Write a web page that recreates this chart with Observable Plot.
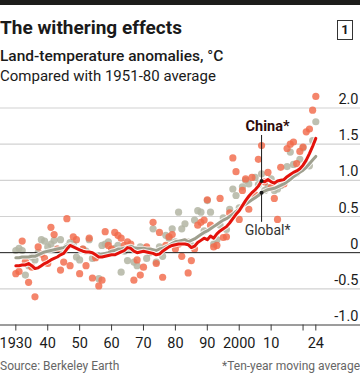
<!DOCTYPE html>
<html><head><meta charset="utf-8">
<script src="https://cdn.jsdelivr.net/npm/d3@7"></script>
<script src="https://cdn.jsdelivr.net/npm/@observablehq/plot@0.6"></script>
<style>
body{margin:0;background:#fff;}
#wrap{position:relative;width:360px;height:381px;overflow:hidden;font-family:Roboto,"Noto Sans",sans-serif;color:#1a1a1a;}
#wrap div{position:absolute;white-space:nowrap;line-height:1;}
.bar{left:0;top:0;width:360px;height:5px;background:#1d1d1b;}
.title{left:0;top:17.5px;font-size:19px;font-weight:700;}
.sub{left:0;top:49.3px;font-size:15.5px;font-weight:500;}
.sub2{left:0;top:69px;font-size:15px;font-weight:400;}
.box{left:337px;top:19.5px;width:14px;height:18px;border:1.5px solid #333;font-size:13px;font-weight:700;text-align:center;line-height:18px !important;}
.src{left:0;top:360px;font-size:12px;color:#666;}
.note{right:0;top:360px;font-size:12px;color:#666;}
#chart{left:0;top:0;}
</style></head>
<body>
<div id="wrap">
  <div id="chart"></div>
  <div class="bar"></div>
  <div class="title">The withering effects</div>
  <div class="box">1</div>
  <div class="sub">Land-temperature anomalies, °C</div>
  <div class="sub2">Compared with 1951-80 average</div>
  <div class="src">Source: Berkeley Earth</div>
  <div class="note">*Ten-year moving average</div>
</div>
<script>
const firstYear = 1930;
const chinaValues = [
 -0.29,-0.26,0.16,-0.12,-0.41,-0.20,-0.61,0.08,-0.02,-0.08,
 -0.15,0.35,0.25,0.05,-0.24,-0.13,0.47,-0.18,0.22,0.18,
 -0.29,0.05,-0.18,0.20,-0.35,-0.07,-0.46,-0.38,0.29,0.10,
 0.05,0.28,0.24,0.20,0.10,0.15,0.12,-0.38,-0.10,-0.31,
 -0.20,0.08,0.03,0.42,-0.15,0.28,-0.34,0.10,0.22,0.25,
 0.05,0.12,-0.05,0.15,-0.28,-0.11,0.05,0.38,0.42,0.45,
 0.73,0.38,0.08,0.10,0.75,0.21,0.22,0.55,1.31,1.12,
 0.46,0.86,1.02,0.60,1.04,0.80,1.29,1.48,0.98,1.11,
 0.90,0.75,0.46,1.18,0.95,1.44,1.50,1.53,1.23,1.40,
 1.46,1.67,1.71,1.97,2.16];
const globalValues = [
 0.03,0.06,0.03,-0.31,-0.18,-0.06,-0.10,0.00,0.18,0.16,
 0.08,0.12,0.17,0.05,0.18,0.02,0.08,0.14,0.12,-0.06,
 -0.10,0.05,0.02,0.18,-0.08,-0.05,-0.36,0.10,0.12,0.15,
 0.02,0.06,0.10,-0.27,0.02,-0.11,0.05,-0.13,-0.18,0.08,
 0.06,-0.08,0.00,0.33,-0.13,0.08,-0.05,0.24,0.20,0.33,
 0.15,0.56,0.33,0.40,0.15,0.10,0.45,0.58,0.56,0.30,
 0.72,0.56,0.12,0.18,0.38,0.48,0.32,0.60,0.88,0.79,
 0.62,0.91,1.00,0.95,0.80,1.04,0.94,1.09,0.86,0.90,
 1.02,0.86,0.88,0.93,0.98,1.19,1.39,1.22,1.10,1.29,
 1.45,1.22,1.20,1.55,1.81];
const chinaAvg = [
 -0.18,-0.18,-0.17,-0.17,-0.15,-0.18,-0.22,-0.21,-0.18,-0.15,
 -0.13,-0.10,-0.08,-0.06,-0.03,-0.01,0.05,0.10,0.08,0.06,
 0.04,0.02,0.01,0.01,0.00,-0.03,-0.06,-0.06,-0.05,-0.04,
 -0.03,-0.03,-0.01,0.01,0.03,0.07,0.06,0.02,0.00,0.01,
 0.02,0.01,0.00,-0.01,-0.03,-0.02,0.02,0.05,0.08,0.10,
 0.11,0.12,0.12,0.12,0.11,0.07,0.09,0.14,0.17,0.20,
 0.18,0.23,0.20,0.26,0.30,0.33,0.36,0.41,0.47,0.53,
 0.58,0.65,0.72,0.78,0.83,0.87,0.92,0.99,0.98,1.01,
 0.98,0.96,0.99,1.00,1.01,1.05,1.08,1.11,1.13,1.16,
 1.21,1.28,1.37,1.47,1.58];
const globalAvg = [
 -0.07,-0.07,-0.06,-0.06,-0.06,-0.05,-0.05,-0.03,-0.01,0.01,
 0.02,0.03,0.04,0.05,0.06,0.07,0.09,0.11,0.10,0.06,
 0.03,0.02,0.01,0.00,-0.01,-0.02,-0.03,-0.02,-0.01,0.00,
 0.02,0.03,0.05,0.05,0.06,0.08,0.09,0.07,0.06,0.06,
 0.06,0.05,0.05,0.04,0.03,0.05,0.06,0.08,0.10,0.13,
 0.15,0.16,0.17,0.18,0.15,0.17,0.19,0.22,0.25,0.28,
 0.30,0.33,0.36,0.39,0.42,0.45,0.47,0.50,0.53,0.57,
 0.60,0.64,0.67,0.70,0.73,0.76,0.79,0.83,0.85,0.87,
 0.88,0.89,0.91,0.93,0.95,0.98,1.01,1.05,1.08,1.11,
 1.14,1.18,1.23,1.28,1.33];
const xTicks = [1930,1940,1950,1960,1970,1980,1990,2000,2010,2020,2024];
const xTickLabels = ["1930","40","50","60","70","80","90","2000","10","","24"];
const yTicks = [2,1.5,1,0.5,0,-0.5,-1];
const yTickLabels = ["2.0","1.5","1.0","0.5","0","-0.5","-1.0"];
const labelYear = 2007;

const rows = (vals) => vals.map((v, i) => ({year: firstYear + i, value: v}));
const china = rows(chinaValues), global = rows(globalValues);
const chinaLine = rows(chinaAvg), globalLine = rows(globalAvg);
const cAt = chinaLine.find(d => d.year === labelYear).value;
const gAt = globalLine.find(d => d.year === labelYear).value;

const chart = Plot.plot({
  width: 360, height: 381,
  marginTop: 107.5, marginBottom: 56.5, marginLeft: 0, marginRight: 0,
  x: {domain: [1925.2, 2038.0]},
  y: {domain: [-1, 2], axis: null},
  style: {fontFamily: "Roboto, sans-serif", background: "transparent", color: "#1a1a1a"},
  marks: [
    Plot.ruleY(yTicks.filter(v => v !== 0 && v !== -1), {stroke: "#d2d2d2", strokeWidth: 1.2}),
    Plot.ruleY([-1], {stroke: "#3a3a3a", strokeWidth: 1}),
    Plot.axisX({ticks: xTicks, tickFormat: (d) => xTickLabels[xTicks.indexOf(d)], tickSize: 6,
      tickPadding: 7, fontSize: 14.5, label: null, anchor: "bottom", stroke: "#3a3a3a"}),
    Plot.text(yTicks, {x: () => 2038.0, y: d => d, text: (d, i) => yTickLabels[i], textAnchor: "end",
      dx: -2, dy: -8.5, fontSize: 14.5, fill: "#1a1a1a"}),
    Plot.dot(global, {x: "year", y: "value", r: 3.6, fill: "#b3b5a3", fillOpacity: 0.85, stroke: null}),
    Plot.dot(china, {x: "year", y: "value", r: 3.6, fill: "#f26a4a", fillOpacity: 0.82, stroke: null}),
    Plot.ruleY([0], {stroke: "#1a1a1a", strokeWidth: 1}),
    Plot.line(globalLine, {x: "year", y: "value", stroke: "#fff", strokeWidth: 5, strokeOpacity: 0.8}),
    Plot.line(globalLine, {x: "year", y: "value", stroke: "#9e9f8e", strokeWidth: 3}),
    Plot.line(chinaLine, {x: "year", y: "value", stroke: "#fff", strokeWidth: 5, strokeOpacity: 0.8}),
    Plot.line(chinaLine, {x: "year", y: "value", stroke: "#e3120b", strokeWidth: 3}),
    Plot.ruleX([labelYear], {y1: cAt, y2: 1.62, stroke: "#1a1a1a", strokeWidth: 1}),
    Plot.ruleX([labelYear], {y1: gAt, y2: 0.42, stroke: "#1a1a1a", strokeWidth: 1}),
    Plot.dot([cAt, gAt], {x: () => labelYear, y: d => d, r: 2, fill: "#1a1a1a"}),
    Plot.text(["China*"], {x: () => labelYear, y: () => 1.62, dx: 6, dy: -4, lineAnchor: "bottom",
      fontSize: 14.5, fontWeight: "bold", fill: "#2e0a0a"}),
    Plot.text(["Global*"], {x: () => labelYear, y: () => 0.42, dx: 6, dy: 3, lineAnchor: "top",
      fontSize: 14, fill: "#333"})
  ]
});
document.getElementById("chart").appendChild(chart);
</script>
</body></html>
